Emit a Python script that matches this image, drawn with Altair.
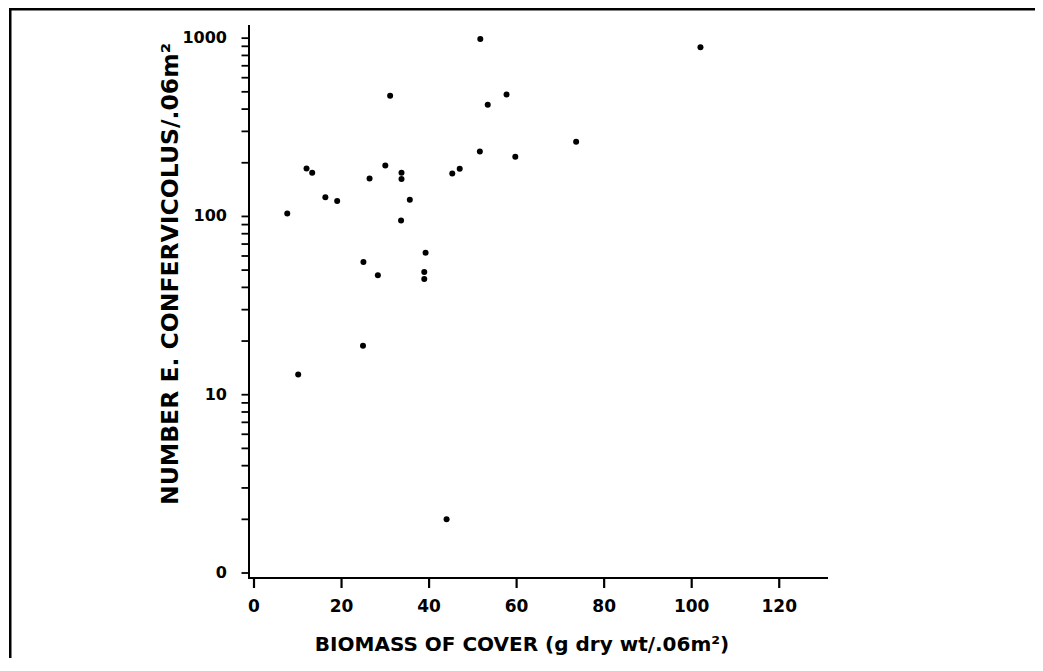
import altair as alt
import pandas as pd

# Biomass of cover (g dry wt / .06 m^2)
biomass = [51.7, 31.1, 57.7, 53.4, 73.6, 51.6, 59.7, 12.0, 13.3, 30.0,
           26.4, 33.7, 33.7, 45.3, 47.0, 16.3, 19.0, 35.6, 7.6, 33.6,
           39.2, 25.0, 28.3, 38.9, 38.9, 102.0, 24.9, 10.1, 44.0]
# Number of E. confervicolus per .06 m^2
number = [990, 475, 483, 423, 262, 231, 216, 186, 176, 193,
          163, 176, 162, 174, 185, 128, 122, 124, 104, 95,
          62.5, 55.6, 46.8, 48.8, 44.6, 888, 18.8, 13.0, 2.0]

x_ticks = [0, 20, 40, 60, 80, 100, 120]
x_tick_labels = ["0", "20", "40", "60", "80", "100", "120"]
y_ticks = [1, 2, 3, 4, 5, 6, 7, 8, 9,
           10, 20, 30, 40, 50, 60, 70, 80, 90,
           100, 200, 300, 400, 500, 600, 700, 800, 900, 1000]
y_major = [1, 10, 100, 1000]
y_major_labels = ["0", "10", "100", "1000"]

x_title = "BIOMASS OF COVER (g dry wt/.06m²)"
y_title = "NUMBER E. CONFERVICOLUS/.06m²"

df = pd.DataFrame({"biomass": biomass, "number": number})
df_xt = pd.DataFrame({"biomass": x_ticks})
df_xl = pd.DataFrame({"biomass": x_ticks, "label": x_tick_labels})
df_yt = pd.DataFrame({"number": y_ticks})
df_yl = pd.DataFrame({"number": y_major, "label": y_major_labels})

FONT = "DejaVu Sans"
W, H = 579, 553
x_scale = alt.Scale(domain=[0, 130], nice=False, zero=False)
y_scale = alt.Scale(type="log", domain=[1, 1111], nice=False)

X = lambda f: alt.X(f, scale=x_scale, axis=None)
Y = lambda f: alt.Y(f, scale=y_scale, axis=None)

points = alt.Chart(df).mark_circle(size=36, color="black", opacity=1).encode(
    x=X("biomass:Q"), y=Y("number:Q")
)

one = alt.Data(values=[{"a": 0}])

# axis lines
x_domain = alt.Chart(one).mark_rect(color="black").encode(
    x=alt.value(-1), x2=alt.value(W), y=alt.value(H - 1), y2=alt.value(H + 1)
)
y_domain = alt.Chart(one).mark_rect(color="black").encode(
    x=alt.value(-1), x2=alt.value(1), y=alt.value(0), y2=alt.value(H + 1)
)

# tick marks through the scales, drawn as thin bars
x_tick_marks = alt.Chart(df_xt).mark_bar(color="black", width=2.2, opacity=1).encode(
    x=X("biomass:Q"), y=alt.value(H), y2=alt.value(H + 10)
)
y_tick_marks = alt.Chart(df_yt).mark_bar(color="black", height=1.8, opacity=1).encode(
    y=Y("number:Q"), x=alt.value(-7.5), x2=alt.value(0)
)

# tick labels
x_labels = alt.Chart(df_xl).mark_text(
    font=FONT, fontWeight="bold", fontSize=17, color="black",
    align="center", baseline="middle",
).encode(x=X("biomass:Q"), y=alt.value(H + 29), text="label:N")
y_labels = alt.Chart(df_yl).mark_text(
    font=FONT, fontWeight="bold", fontSize=16, color="black",
    align="right", baseline="middle",
).encode(y=Y("number:Q"), x=alt.value(-22), text="label:N")

# axis titles
x_title_mark = alt.Chart(alt.Data(values=[{"t": x_title}])).mark_text(
    font=FONT, fontWeight="bold", fontSize=20, color="black",
    align="center", baseline="alphabetic",
).encode(x=alt.value(273), y=alt.value(H + 73), text="t:N")
y_title_mark = alt.Chart(alt.Data(values=[{"t": y_title}])).mark_text(
    font=FONT, fontWeight="bold", fontSize=23.5, color="black",
    align="center", baseline="middle", angle=270,
).encode(x=alt.value(-78), y=alt.value(249), text="t:N")

# figure frame (top and left edges)
top_line = alt.Chart(one).mark_rect(color="black").encode(
    x=alt.value(-240), x2=alt.value(786), y=alt.value(-17), y2=alt.value(-14.5)
)
left_line = alt.Chart(one).mark_rect(color="black").encode(
    x=alt.value(-240), x2=alt.value(-237.5), y=alt.value(-17), y2=alt.value(640)
)

chart = (
    alt.layer(
        points, x_domain, y_domain, x_tick_marks, y_tick_marks,
        x_labels, y_labels, x_title_mark, y_title_mark, top_line, left_line,
    )
    .properties(
        width=W,
        height=H,
        autosize=alt.AutoSizeParams(type="none"),
        padding={"left": 241, "top": 17, "right": 207, "bottom": 80},
        background="white",
    )
    .configure_view(stroke=None)
)

chart.save("out.html", embed_options={"renderer": "svg", "actions": False})
